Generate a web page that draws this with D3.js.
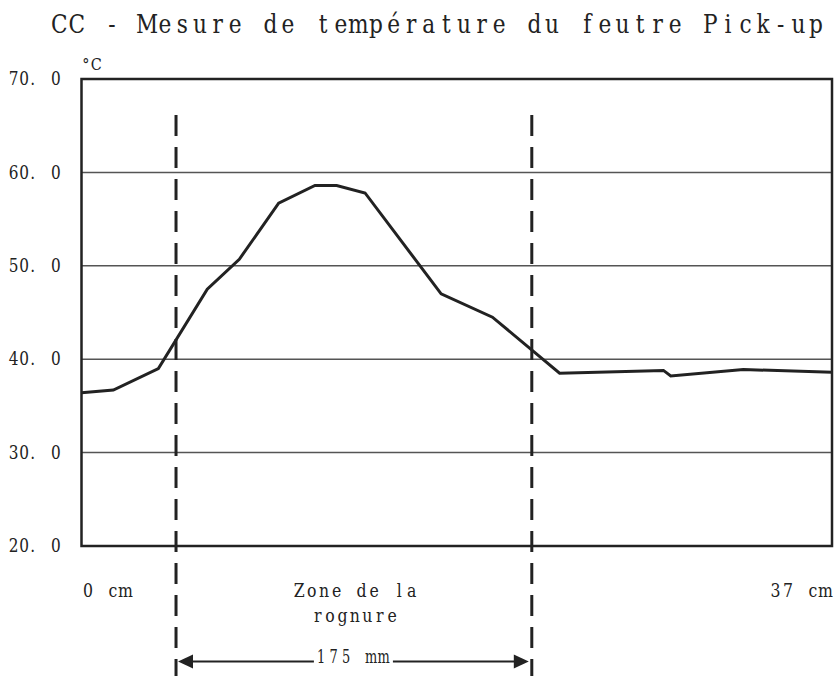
<!DOCTYPE html>
<html>
<head>
<meta charset="utf-8">
<script src="https://cdn.jsdelivr.net/npm/d3@7"></script>
<style>
  body { margin: 0; background: #fff; }
  svg { display: block; }
  text { font-family: "DejaVu Serif", "Liberation Serif", serif; fill: #222; }
</style>
</head>
<body>
<div id="chart"></div>
<script>
// position along the felt (cm) and measured temperature (°C)
const positions = [0, 1.57, 3.79, 6.2, 7.78, 9.72, 11.51, 12.58, 13.98, 17.73, 20.26, 23.57, 28.69, 29.05, 32.63, 37];
const temps = [36.4, 36.7, 39.0, 47.5, 50.7, 56.7, 58.6, 58.6, 57.8, 47.0, 44.5, 38.5, 38.8, 38.2, 38.9, 38.6];
const yTicks = [20, 30, 40, 50, 60, 70];
const yTickLabels = ['20. 0', '30. 0', '40. 0', '50. 0', '60. 0', '70. 0'];
const zoneEdges = [4.66, 22.2];   // trim zone limits, cm
const xEndLabels = ['0 cm', '37 cm'];

const width = 838, height = 676;
const margin = {top: 79, right: 6, bottom: 130, left: 81.5};
const SX = 0.85;   // slightly condensed glyphs

const svg = d3.select('#chart').append('svg')
  .attr('width', width)
  .attr('height', height);

const x = d3.scaleLinear().domain([0, 37]).range([margin.left, width - margin.right]);
const y = d3.scaleLinear().domain([20, 70]).range([height - margin.bottom, margin.top]);

// one fixed cell per character, so a serif face reads like the half-width mincho of the original
function mono(sel, str, firstCenter, cell, size, sx = SX) {
  sel.text(null)
    .attr('text-anchor', 'middle')
    .attr('transform', `scale(${sx},1)`)
    .style('font-size', size + 'px')
    .style('white-space', 'pre');
  str.split('').forEach((c, i) => {
    let cx = firstCenter + i * cell;
    if (c === '.') cx -= cell * 0.2;
    sel.append('tspan').attr('x', (cx / sx).toFixed(2)).text(c);
  });
  return sel;
}

function label(str, centerX, baseline, cell, size, sx) {
  const first = centerX - (str.length - 1) * cell / 2;
  const t = svg.append('text').attr('y', baseline);
  return mono(t, str, first, cell, size, sx);
}

// title
label('CC - Mesure de température du feutre Pick-up', 437.6, 33, 17.6, 25.5);
label('°C', 91, 70, 10.5, 17);

// grid lines
svg.append('g')
  .selectAll('line')
  .data(yTicks.filter(d => d > 20 && d < 70))
  .join('line')
  .attr('x1', x(0)).attr('x2', x(37))
  .attr('y1', d => y(d)).attr('y2', d => y(d))
  .attr('stroke', '#555')
  .attr('stroke-width', 1.5);

// y axis labels
const yAxis = svg.append('g')
  .attr('transform', `translate(${margin.left},0)`)
  .call(d3.axisLeft(y).tickValues(yTicks).tickFormat((d, i) => yTickLabels[i]).tickSize(0));
yAxis.select('.domain').remove();
yAxis.selectAll('.tick text')
  .attr('fill', '#222')
  .style('font-family', '"DejaVu Serif", serif')
  .each(function (d, i) {
    mono(d3.select(this), yTickLabels[i], -68, 10.6, 18);
  });

// frame
svg.append('rect')
  .attr('x', x(0)).attr('y', y(70))
  .attr('width', x(37) - x(0))
  .attr('height', y(20) - y(70))
  .attr('fill', 'none')
  .attr('stroke', '#222')
  .attr('stroke-width', 2.5);

// temperature curve
const line = d3.line()
  .x((d, i) => x(positions[i]))
  .y(d => y(d));

svg.append('path')
  .datum(temps)
  .attr('d', line)
  .attr('fill', 'none')
  .attr('stroke', '#222')
  .attr('stroke-width', 3)
  .attr('stroke-linejoin', 'miter');

// trim zone dashed limits
svg.append('g')
  .selectAll('line')
  .data(zoneEdges)
  .join('line')
  .attr('x1', d => x(d)).attr('x2', d => x(d))
  .attr('y1', 115).attr('y2', height)
  .attr('stroke', '#222')
  .attr('stroke-width', 3)
  .attr('stroke-dasharray', '21 11');

// bottom labels
label(xEndLabels[0], x(0) + 6.5 + 1.5 * 12.5, 597, 12.5, 18.5);
label(xEndLabels[1], x(37) - 6.5 - 2 * 12.5, 597, 12.5, 18.5);

const zoneMid = (x(zoneEdges[0]) + x(zoneEdges[1])) / 2;
label('Zone de la', zoneMid + 1.5, 597, 12.5, 18.5);
label('rognure', zoneMid + 1, 622, 12.4, 18.5);

// 175 mm dimension arrow
const arrowY = 661.5;
label('175 mm', zoneMid - 1.5, 663, 12.5, 18.5, 0.7);
const textLeft = zoneMid - 1.5 - 3 * 12.5 - 1;
const textRight = zoneMid - 1.5 + 3 * 12.5 + 3;
const left = x(zoneEdges[0]) + 2, right = x(zoneEdges[1]) - 3;

svg.append('line')
  .attr('x1', left + 10).attr('x2', textLeft)
  .attr('y1', arrowY).attr('y2', arrowY)
  .attr('stroke', '#222').attr('stroke-width', 2);
svg.append('line')
  .attr('x1', textRight).attr('x2', right - 10)
  .attr('y1', arrowY).attr('y2', arrowY)
  .attr('stroke', '#222').attr('stroke-width', 2);

svg.append('path')
  .attr('d', `M${left},${arrowY} L${left + 15},${arrowY - 7} L${left + 15},${arrowY + 7} Z`)
  .attr('fill', '#222');
svg.append('path')
  .attr('d', `M${right},${arrowY} L${right - 15},${arrowY - 7} L${right - 15},${arrowY + 7} Z`)
  .attr('fill', '#222');
</script>
</body>
</html>
